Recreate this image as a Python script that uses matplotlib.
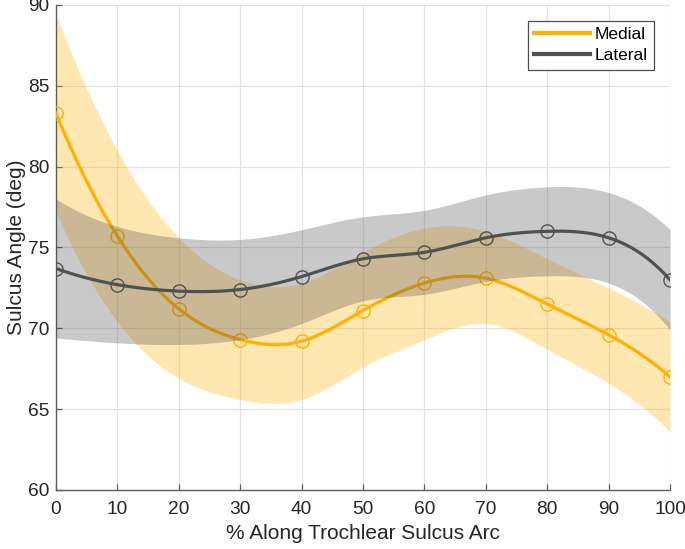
import numpy as np
import matplotlib
matplotlib.use("Agg")
import matplotlib.pyplot as plt

plt.rcParams['font.family'] = ['Liberation Sans', 'DejaVu Sans']

x = [0, 10, 20, 30, 40, 50, 60, 70, 80, 90, 100]
medial_mean = [83.3, 75.7, 71.2, 69.3, 69.2, 71.1, 72.8, 73.1, 71.5, 69.6, 67.0]
medial_upper = [89.4, 81.0, 75.6, 73.0, 72.8, 74.7, 76.2, 76.0, 74.3, 72.5, 70.4]
medial_lower = [77.2, 70.4, 66.9, 65.6, 65.6, 67.6, 69.3, 70.3, 68.7, 66.6, 63.6]
lateral_mean = [73.7, 72.7, 72.3, 72.4, 73.2, 74.3, 74.7, 75.6, 76.0, 75.6, 73.0]
lateral_upper = [78.0, 76.3, 75.6, 75.5, 76.1, 76.9, 77.3, 78.25, 78.75, 78.4, 76.1]
lateral_lower = [69.4, 69.1, 69.0, 69.3, 70.3, 71.7, 72.1, 72.9, 73.25, 72.8, 69.9]
xticks = [0, 10, 20, 30, 40, 50, 60, 70, 80, 90, 100]
yticks = [60, 65, 70, 75, 80, 85, 90]


def spline(xs, ys, xq):
    """Not-a-knot cubic spline (like MATLAB's spline)."""
    xs = np.asarray(xs, float)
    ys = np.asarray(ys, float)
    n = len(xs)
    h = np.diff(xs)
    A = np.zeros((n, n))
    b = np.zeros(n)
    for i in range(1, n - 1):
        A[i, i - 1] = h[i - 1]
        A[i, i] = 2 * (h[i - 1] + h[i])
        A[i, i + 1] = h[i]
        b[i] = 6 * ((ys[i + 1] - ys[i]) / h[i] - (ys[i] - ys[i - 1]) / h[i - 1])
    A[0, 0] = h[1]
    A[0, 1] = -(h[0] + h[1])
    A[0, 2] = h[0]
    A[-1, -3] = h[-1]
    A[-1, -2] = -(h[-2] + h[-1])
    A[-1, -1] = h[-2]
    M = np.linalg.solve(A, b)
    idx = np.clip(np.searchsorted(xs, xq) - 1, 0, n - 2)
    x0 = xs[idx]
    x1 = xs[idx + 1]
    hh = x1 - x0
    a = x1 - xq
    t = xq - x0
    return (M[idx] * a ** 3 / (6 * hh) + M[idx + 1] * t ** 3 / (6 * hh)
            + (ys[idx] / hh - M[idx] * hh / 6) * a
            + (ys[idx + 1] / hh - M[idx + 1] * hh / 6) * t)


xf = np.linspace(0, 100, 400)

c_med = '#FFB000'
c_lat = '#4F5252'

fig = plt.figure(figsize=(6.85, 5.49), dpi=100)
ax = fig.add_axes([0.0818, 0.1075, 0.8963, 0.8834])

ax.fill_between(xf, spline(x, medial_lower, xf), spline(x, medial_upper, xf),
                color=c_med, alpha=0.3, linewidth=0, zorder=2)
ax.plot(xf, spline(x, medial_mean, xf), color=c_med, lw=2.3, zorder=3)
ax.plot(x, medial_mean, 'o', mfc='none', mec=c_med, ms=9.5, mew=1.0, zorder=3)
med_handle, = ax.plot([], [], color=c_med, lw=3.0)

ax.fill_between(xf, spline(x, lateral_lower, xf), spline(x, lateral_upper, xf),
                color='#4D4D4D', alpha=0.3, linewidth=0, zorder=4)
ax.plot(xf, spline(x, lateral_mean, xf), color=c_lat, lw=2.3, zorder=5)
ax.plot(x, lateral_mean, 'o', mfc='none', mec=c_lat, ms=9.5, mew=1.0, zorder=5)
lat_handle, = ax.plot([], [], color=c_lat, lw=3.0)

ax.set_xlim(0, 100)
ax.set_ylim(60, 90)
ax.set_xticks(xticks)
ax.set_yticks(yticks)
ax.grid(True, color='#E3E3E3', lw=0.9, zorder=0)
ax.set_axisbelow(True)
for s in ['top', 'right']:
    ax.spines[s].set_visible(False)
for s in ['left', 'bottom']:
    ax.spines[s].set_color('#5E5E5E')
    ax.spines[s].set_linewidth(1.0)
ax.tick_params(direction='in', length=4, width=0.9, color='#5E5E5E',
               labelsize=13.8, labelcolor='#262626')
ax.tick_params(axis='x', pad=8)
ax.tick_params(axis='y', pad=5)
ax.set_xlabel('% Along Trochlear Sulcus Arc', fontsize=15, color='#262626', labelpad=4)
ax.set_ylabel('Sulcus Angle (deg)', fontsize=15, color='#262626', labelpad=1)

leg = ax.legend([med_handle, lat_handle], ['Medial', 'Lateral'], loc='upper right',
                bbox_to_anchor=(0.974, 0.967), fontsize=12.5, handlelength=3.2,
                fancybox=False, framealpha=1, edgecolor='#4D4D4D',
                borderpad=0.35, labelspacing=0.35, handletextpad=0.3,
                borderaxespad=0.0)
leg.get_frame().set_linewidth(0.9)

fig.savefig('out.png', dpi=100)
